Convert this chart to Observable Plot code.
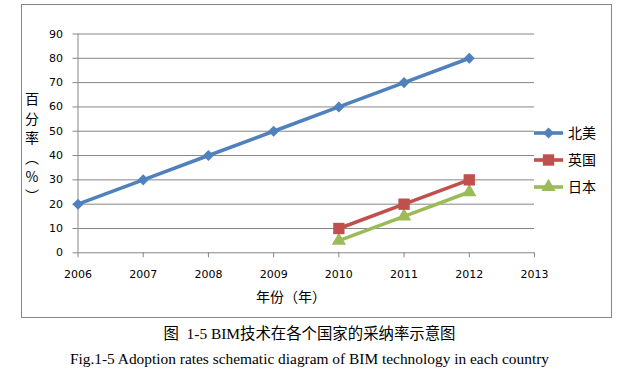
<!DOCTYPE html>
<html>
<head>
<meta charset="utf-8">
<script src="https://cdn.jsdelivr.net/npm/d3@7"></script>
<script src="https://cdn.jsdelivr.net/npm/@observablehq/plot@0.6"></script>
<style>
  html, body { margin: 0; padding: 0; background: #fff; }
  #wrap { position: relative; width: 643px; height: 391px; overflow: hidden; }
  #chart { position: absolute; left: 0; top: 0; }
  .abs { position: absolute; white-space: nowrap; color: #000; }
  .cjk { font-family: "Noto Sans CJK SC", "Noto Sans", sans-serif; font-size: 14px; line-height: 1; }
  #border { position: absolute; left: 21px; top: 4px; width: 591px; height: 314px; box-sizing: border-box; border: 1px solid #868686; pointer-events: none; }
  .cap { font-family: "Liberation Serif", "Noto Sans CJK SC", serif; font-size: 15.4px; line-height: 1; width: 643px; text-align: center; left: -12px; }
  #ytitle { left: 24px; top: 92px; width: 15px; writing-mode: vertical-rl; text-orientation: upright; letter-spacing: 5.4px; font-feature-settings: "vert" 0, "vrt2" 0; }
</style>
</head>
<body>
<div id="wrap">
  <div id="chart"></div>
  <div id="border"></div>
  <div class="abs cjk" id="ytitle"></div>
  <div class="abs cjk" id="xtitle" style="left:0;width:582px;text-align:center;top:289px;">年份（年）</div>
  <svg id="legend" class="abs" style="left:530px;top:120px;" width="90" height="80"></svg>
  <div class="abs cap" style="top:326px;">图&nbsp;&nbsp;1-5 BIM技术在各个国家的采纳率示意图</div>
  <div class="abs cap" style="top:351px;">Fig.1-5 Adoption rates schematic diagram of BIM technology in each country</div>
</div>
<script>
const xTicks = [2006, 2007, 2008, 2009, 2010, 2011, 2012, 2013];
const yTicks = [0, 10, 20, 30, 40, 50, 60, 70, 80, 90];
const seriesNames = ["北美", "英国", "日本"];
const seriesColors = ["#4F81BD", "#C0504D", "#9BBB59"];
const seriesSymbols = ["diamond2", "square", "triangle"];
const naYears = [2006, 2007, 2008, 2009, 2010, 2011, 2012];
const naValues = [20, 30, 40, 50, 60, 70, 80];
const ukYears = [2010, 2011, 2012];
const ukValues = [10, 20, 30];
const jpYears = [2010, 2011, 2012];
const jpValues = [5, 15, 25];
const yTitle = "百分率（%）";

const rows = [];
naYears.forEach((y, i) => rows.push({year: y, value: naValues[i], s: 0}));
ukYears.forEach((y, i) => rows.push({year: y, value: ukValues[i], s: 1}));
jpYears.forEach((y, i) => rows.push({year: y, value: jpValues[i], s: 2}));
const symbolR = [5, 6.4, 5.3];

const gray = "#868686";
const marks = [
  Plot.gridY(yTicks.filter(v => v > 0), {stroke: gray, strokeOpacity: 1, strokeWidth: 1}),
  Plot.axisY({ticks: yTicks, tickSize: 5, tickPadding: 10, stroke: gray, fontSize: 11, fill: "#000", label: null, tickFormat: d => String(d)}),
  Plot.axisX({ticks: xTicks, tickSize: 5, tickPadding: 12, stroke: gray, fontSize: 11, fill: "#000", label: null, tickFormat: d => String(d)}),
  Plot.ruleX([2006], {stroke: gray}),
  Plot.ruleY([0], {stroke: gray})
];
[2, 1, 0].forEach(s => {
  const d = rows.filter(r => r.s === s);
  marks.push(Plot.line(d, {x: "year", y: "value", stroke: seriesColors[s], strokeWidth: 3.6, strokeLinejoin: "round"}));
  marks.push(Plot.dot(d, {x: "year", y: "value", symbol: () => seriesSymbols[s], fill: seriesColors[s], stroke: "none", r: symbolR[s]}));
});

const plot = Plot.plot({
  width: 643,
  height: 320,
  marginLeft: 77.5,
  marginRight: 109,
  marginTop: 33.5,
  marginBottom: 67.7,
  x: {domain: [2006, 2013]},
  y: {domain: [0, 90]},
  symbol: {type: "identity"},
  style: {fontFamily: "'DejaVu Sans', sans-serif", background: "transparent"},
  marks
});
document.getElementById("chart").appendChild(plot);

document.getElementById("ytitle").textContent = yTitle;

// legend
const lg = d3.select("#legend");
const symMap = {diamond2: d3.symbolDiamond2, square: d3.symbolSquare, triangle: d3.symbolTriangle};
seriesNames.forEach((name, i) => {
  const cy = 13 + i * 27;
  const g = lg.append("g");
  g.append("line").attr("x1", 4).attr("x2", 33).attr("y1", cy).attr("y2", cy)
    .attr("stroke", seriesColors[i]).attr("stroke-width", 3.6);
  g.append("path").attr("transform", `translate(18.5,${cy})`)
    .attr("d", d3.symbol(symMap[seriesSymbols[i]], Math.PI * symbolR[i] * symbolR[i])())
    .attr("fill", seriesColors[i]);
  g.append("text").attr("x", 38).attr("y", cy).attr("dy", "0.36em")
    .attr("font-family", "'Noto Sans CJK SC', sans-serif").attr("font-size", 14)
    .attr("fill", "#000").text(name);
});
</script>
</body>
</html>
